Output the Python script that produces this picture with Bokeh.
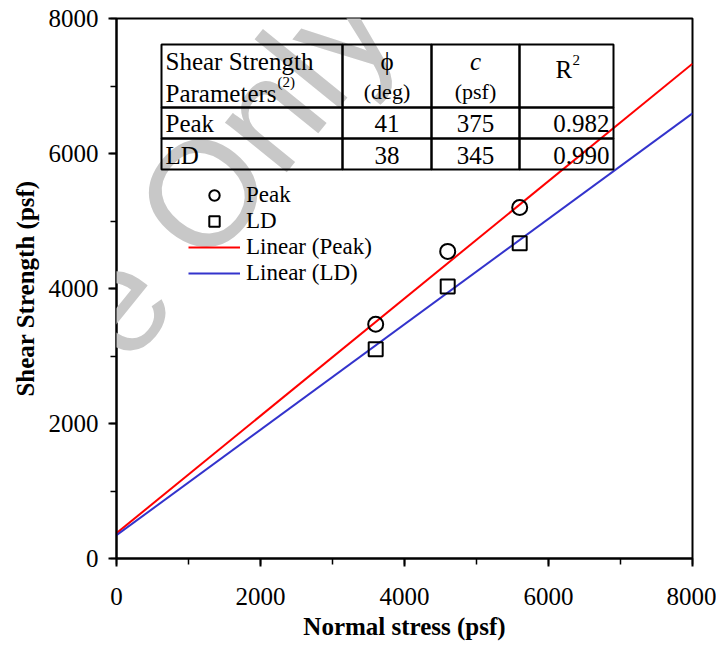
import math
from bokeh.plotting import figure
from bokeh.models import (Range1d, SingleIntervalTicker, Label, BoxAnnotation,
                          Legend, LegendItem)
from bokeh.embed import file_html
from bokeh.resources import INLINE

# ---------------- data ----------------
normal_stress = [3600, 4600, 5600]
peak_strength = [3470, 4550, 5200]
ld_strength = [3100, 4030, 4670]

fit_x = [0, 8000]
peak_fit = [375, 7330]
ld_fit = [345, 6595]

param_names = ["Peak", "LD"]
phi_deg = ["41", "38"]
cohesion = ["375", "345"]
r_squared = ["0.982", "0.990"]

# ---------------- figure ----------------
W, H = 716, 642
SERIF = "Liberation Serif"

p = figure(width=W, height=H, output_backend="svg", toolbar_location=None,
           x_range=Range1d(0, 8000), y_range=Range1d(0, 8000),
           min_border_left=116, min_border_right=24,
           min_border_top=18, min_border_bottom=84)
p.xgrid.visible = False
p.ygrid.visible = False
p.outline_line_color = "black"
p.outline_line_width = 2
p.background_fill_color = "white"
p.border_fill_color = "white"

p.xaxis.axis_label = "Normal stress (psf)"
p.yaxis.axis_label = "Shear Strength (psf)"
for ax in (p.xaxis[0], p.yaxis[0]):
    ax.ticker = SingleIntervalTicker(interval=2000, num_minor_ticks=2)
    ax.major_label_text_font = SERIF
    ax.major_label_text_font_size = "25px"
    ax.major_label_text_color = "black"
    ax.axis_label_text_font = SERIF
    ax.axis_label_text_font_size = "25px"
    ax.axis_label_text_font_style = "bold"
    ax.axis_label_text_color = "black"
    ax.axis_line_width = 2
    ax.axis_line_color = "black"
    ax.major_tick_line_width = 2
    ax.minor_tick_line_width = 1.5
    ax.major_tick_out = 8
    ax.major_tick_in = 0
    ax.minor_tick_out = 6
    ax.minor_tick_in = 0
p.xaxis.major_label_standoff = 21
p.xaxis.axis_label_standoff = 5
p.yaxis.major_label_standoff = 10
p.yaxis.axis_label_standoff = 7

# canvas-pixel -> data helpers for annotations (frame: 116..692 x, 18..558 y)
def X(px):
    return (px - 116) / 576 * 8000

def Y(py):
    return (558 - py) / 540 * 8000

# ---------------- watermark ----------------
p.add_layout(Label(x=X(32), y=Y(403), text="Reference Only", angle=math.radians(51),
                   text_align="center", text_baseline="middle",
                   text_font="Liberation Sans", text_font_size="150px",
                   text_color="#c8c8c8"))

# ---------------- table ----------------
col_edges = [161, 342, 431, 519, 613]
row_edges = [44, 107, 138, 169]
for i in range(len(col_edges) - 1):
    for j in range(len(row_edges) - 1):
        p.add_layout(BoxAnnotation(left=X(col_edges[i]), right=X(col_edges[i + 1]),
                                   top=Y(row_edges[j]), bottom=Y(row_edges[j + 1]),
                                   fill_alpha=0, line_color="black", line_alpha=1,
                                   line_width=2))

def lab(px, py, text, size="25px", align="left", style="normal"):
    p.add_layout(Label(x=X(px), y=Y(py - 8), text=text, text_font=SERIF,
                       text_font_size=size, text_align=align,
                       text_baseline="alphabetic", text_font_style=style,
                       text_color="black"))

c1 = (col_edges[1] + col_edges[2]) / 2
c2 = (col_edges[2] + col_edges[3]) / 2
lab(165, 69, "Shear Strength")
lab(165, 101, "Parameters")
lab(277, 89, "(2)", size="15px")
lab(c1, 69, "ϕ", align="center")
lab(c1, 99, "(deg)", size="22px", align="center")
lab(c2, 69, "c", align="center", style="italic")
lab(c2, 99, "(psf)", size="22px", align="center")
lab(555, 77, "R")
lab(572, 67, "2", size="15px")
row_base = [131, 163]
for k in range(len(param_names)):
    lab(165, row_base[k], param_names[k])
    lab(c1, row_base[k], phi_deg[k], align="center")
    lab(c2, row_base[k], cohesion[k], align="center")
    lab(609, row_base[k], r_squared[k], align="right")

# ---------------- glyphs ----------------
r_peak_line = p.line(fit_x, peak_fit, line_color="#ff0000", line_width=2)
r_ld_line = p.line(fit_x, ld_fit, line_color="#3333cc", line_width=2)
r_peak = p.scatter(normal_stress, peak_strength, marker="circle", size=15,
                   fill_color=None, line_color="black", line_width=2)
r_ld = p.scatter(normal_stress, ld_strength, marker="square", size=14,
                 fill_color=None, line_color="black", line_width=2)

legend = Legend(items=[LegendItem(label="Peak", renderers=[r_peak]),
                       LegendItem(label="LD", renderers=[r_ld]),
                       LegendItem(label="Linear (Peak)", renderers=[r_peak_line]),
                       LegendItem(label="Linear (LD)", renderers=[r_ld_line])],
                location=(72, 272), orientation="vertical",
                padding=0, margin=0, border_line_color=None,
                background_fill_alpha=0, glyph_width=52, glyph_height=26,
                spacing=0, label_standoff=6, label_height=26,
                label_text_font=SERIF, label_text_font_size="23px",
                label_text_color="black", label_text_baseline="middle")
p.add_layout(legend)

open("out.html", "w").write(file_html(p, INLINE))
